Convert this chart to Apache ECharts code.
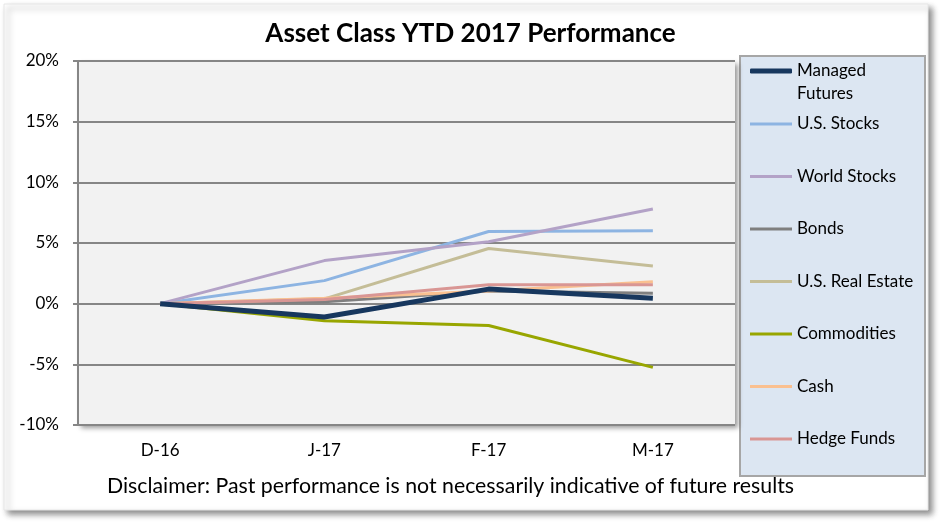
<!DOCTYPE html>
<html>
<head>
<meta charset="utf-8">
<script src="https://cdn.jsdelivr.net/npm/echarts@6/dist/echarts.min.js"></script>
<style>
	html, body { margin: 0; padding: 0; background: #fff; }
	#chart { width: 941px; height: 523px; }
</style>
</head>
<body>
<div id="chart"></div>
<script>
const months = ['D-16', 'J-17', 'F-17', 'M-17'];

const managedFutures = [0, -1.1, 1.2, 0.45];
const usStocks = [0, 1.9, 5.95, 6.0];
const worldStocks = [0, 3.55, 5.1, 7.8];
const bonds = [0, 0.15, 1.05, 0.85];
const usRealEstate = [0, 0.4, 4.55, 3.1];
const commodities = [0, -1.4, -1.8, -5.25];
const cash = [0, 0.45, 1.05, 1.8];
const hedgeFunds = [0, 0.35, 1.55, 1.55];

const FONT = 'Lato, "Open Sans", sans-serif';

function makeLine(name, data, color, width) {
	return {
		name: name,
		type: 'line',
		data: data,
		symbol: 'none',
		color: color,
		lineStyle: { color: color, width: width },
		z: name === 'Managed Futures' ? 3 : 2
	};
}

const series = [
	makeLine('U.S. Stocks', usStocks, '#8db4e2', 3),
	makeLine('World Stocks', worldStocks, '#b3a2c7', 3),
	makeLine('Bonds', bonds, '#7f7f7f', 3),
	makeLine('U.S. Real Estate', usRealEstate, '#c4bd97', 3),
	makeLine('Commodities', commodities, '#98a600', 3),
	makeLine('Cash', cash, '#fac090', 3),
	makeLine('Hedge Funds', hedgeFunds, '#d99694', 3),
	makeLine('Managed Futures', managedFutures, '#17375e', 5)
];

const chart = echarts.init(document.getElementById('chart'));
chart.setOption({
	animation: false,
	textStyle: { fontFamily: FONT },
	graphic: [
		{
			type: 'rect', z: -10,
			shape: { x: 4, y: 4, width: 924, height: 506 },
			style: { fill: '#fff', stroke: '#e6e6e6', lineWidth: 1, shadowBlur: 6, shadowOffsetX: 4, shadowOffsetY: 4, shadowColor: 'rgba(0,0,0,0.45)' }
		},
		{
			type: 'rect', z: -5,
			shape: { x: 740, y: 56, width: 185, height: 420 },
			style: { fill: '#dce6f2', stroke: '#a6a6a6', lineWidth: 2 }
		},
		{
			type: 'text',
			left: 107,
			top: 476,
			style: {
				text: 'Disclaimer: Past performance is not necessarily indicative of future results',
				font: '21.3px ' + FONT,
				fill: '#000'
			}
		}
	],
	title: {
		text: 'Asset Class YTD 2017 Performance',
		left: 'center',
		top: 16,
		textStyle: { fontFamily: FONT, fontWeight: 'bold', fontSize: 26, color: '#000' }
	},
	legend: [
		{
			orient: 'vertical',
			left: 745,
			top: 31.5,
			icon: 'roundRect',
			itemWidth: 42,
			itemHeight: 5,
			data: ['Managed Futures'],
			formatter: () => ' \nManaged\nFutures',
			textStyle: { fontFamily: FONT, fontSize: 17, color: '#000', lineHeight: 23 }
		},
		{
			orient: 'vertical',
			left: 745,
			top: 110,
			icon: 'rect',
			itemWidth: 42,
			itemHeight: 3,
			itemGap: 34.5,
			data: ['U.S. Stocks', 'World Stocks', 'Bonds', 'U.S. Real Estate', 'Commodities', 'Cash', 'Hedge Funds'],
			textStyle: { fontFamily: FONT, fontSize: 17, color: '#000', lineHeight: 18 }
		}
	],
	grid: {
		show: true,
		left: 78,
		right: 206,
		top: 61,
		bottom: 98,
		backgroundColor: '#f2f2f2',
		borderWidth: 0,
		shadowBlur: 5,
		shadowOffsetX: 3,
		shadowOffsetY: 3,
		shadowColor: 'rgba(0,0,0,0.4)'
	},
	xAxis: {
		type: 'category',
		data: months,
		boundaryGap: true,
		axisLine: { show: false },
		axisTick: { show: false },
		axisLabel: { color: '#000', fontSize: 17, margin: 17, fontFamily: FONT }
	},
	yAxis: {
		type: 'value',
		min: -10,
		max: 20,
		interval: 5,
		axisLine: { show: true, lineStyle: { color: '#868686', width: 2 } },
		axisTick: { show: true, length: 5, lineStyle: { color: '#868686', width: 2 } },
		splitLine: { show: true, lineStyle: { color: '#868686', width: 2 } },
		axisLabel: { color: '#000', fontSize: 17, margin: 19, formatter: '{value}%', fontFamily: FONT }
	},
	series: series
});

window.addEventListener('resize', () => chart.resize());
</script>
</body>
</html>
